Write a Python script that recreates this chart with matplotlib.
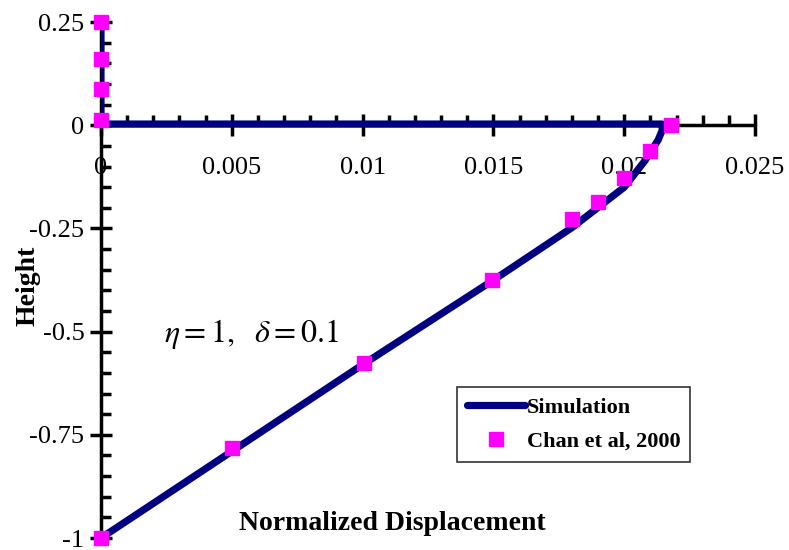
import matplotlib
matplotlib.use("Agg")
import matplotlib.pyplot as plt
from matplotlib.ticker import MultipleLocator, FuncFormatter

sim_x = [0.0, 0.005, 0.010, 0.015, 0.018, 0.0200, 0.0208, 0.0213, 0.02145, 0.02145, 0.0, 0.0]
sim_y = [-1.0, -0.79, -0.58, -0.375, -0.248, -0.150, -0.085, -0.035, -0.012, 0.003, 0.003, 0.25]

chan_x = [0.0, 0.0, 0.0, 0.0, 0.0218, 0.0210, 0.0200, 0.0190, 0.0180, 0.01496, 0.01004, 0.0050, 0.0]
chan_y = [0.25, 0.16, 0.088, 0.012, 0.0, -0.063, -0.128, -0.186, -0.227, -0.374, -0.577, -0.783, -1.0]

xticks = [0, 0.005, 0.01, 0.015, 0.02, 0.025]
yticks = [-1, -0.75, -0.5, -0.25, 0, 0.25]

plt.rcParams['font.family'] = ['Liberation Serif', 'DejaVu Serif']
plt.rcParams['mathtext.fontset'] = 'stix'

fig = plt.figure(figsize=(7.89, 5.5), dpi=100)
ax = fig.add_axes([0.128, 0.0218, 0.829, 0.938])

ax.plot(sim_x, sim_y, color='#000080', lw=5.2, solid_capstyle='round', solid_joinstyle='round',
        label='Simulation', zorder=3)
ax.plot(chan_x, chan_y, ls='none', marker='s', ms=10.5, color='#FF00FF', mec='#FF00FF',
        label='Chan et al, 2000', zorder=4, clip_on=False)

ax.set_xlim(0, 0.025)
ax.set_ylim(-1, 0.25)
ax.spines['top'].set_visible(False)
ax.spines['right'].set_visible(False)
ax.spines['left'].set_position(('data', 0))
ax.spines['bottom'].set_position(('data', 0))
for s in ('left', 'bottom'):
    ax.spines[s].set_linewidth(2.5)
    ax.spines[s].set_capstyle('round')

ax.set_xticks(xticks)
ax.set_yticks(yticks)
ax.xaxis.set_minor_locator(MultipleLocator(0.001))
ax.yaxis.set_minor_locator(MultipleLocator(0.05))

def fmt(v, p):
    s = ('%.3f' % v).rstrip('0').rstrip('.')
    return '0' if s in ('-0', '0') else s
ax.xaxis.set_major_formatter(FuncFormatter(fmt))
ax.yaxis.set_major_formatter(FuncFormatter(fmt))

ax.tick_params(which='major', direction='inout', length=16, width=2.5, labelsize=19, pad=4)
ax.tick_params(axis='x', which='major', pad=15)
ax.tick_params(which='minor', direction='in', length=7, width=2.5)

fig.text(0.036, 0.48, 'Height', rotation=90, fontsize=20, fontweight='bold', ha='center', va='center')
fig.text(0.497, 0.048, 'Normalized Displacement', fontsize=20, fontweight='bold', ha='center', va='center')
fig.text(0.208, 0.393, r'$\eta=1,\ \ \delta=0.1$', fontsize=23, ha='left', va='center')

leg = ax.legend(loc='upper left', bbox_to_anchor=(0.544, 0.292), frameon=True, fancybox=False,
                prop={'family': 'Liberation Serif', 'weight': 'bold', 'size': 16},
                handlelength=2.6, handletextpad=0.1, borderpad=0.45, labelspacing=0.6,
                borderaxespad=0)
leg.get_frame().set_edgecolor('black')
leg.get_frame().set_linewidth(1.2)

fig.savefig('out.png', dpi=100)
